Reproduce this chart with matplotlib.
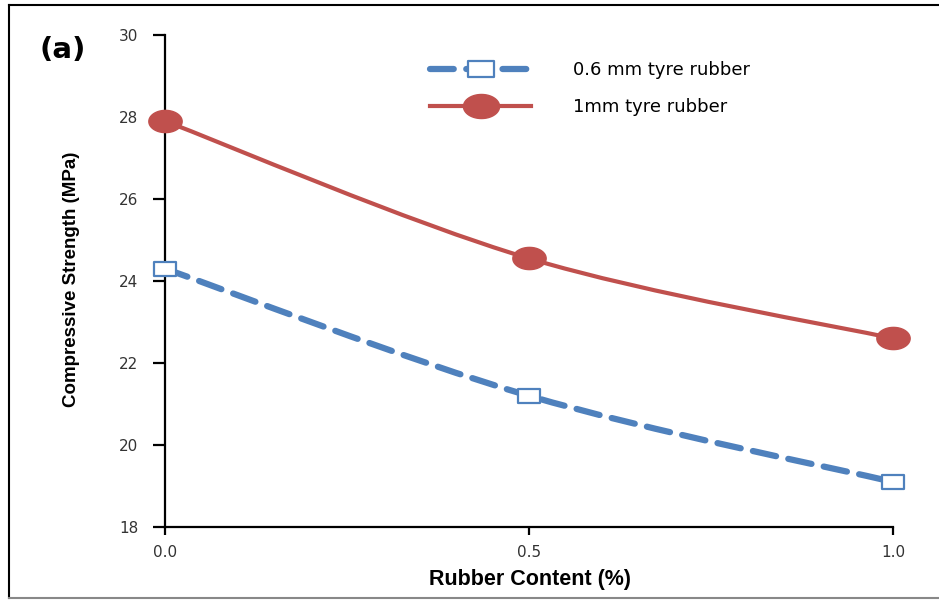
import matplotlib
matplotlib.use("Agg")
import matplotlib.pyplot as plt
import numpy as np
from matplotlib.path import Path
from matplotlib.patches import PathPatch
from matplotlib.lines import Line2D

rubber_content = [0.0, 0.5, 1.0]
strength_06mm = [24.3, 21.2, 19.1]
strength_1mm = [27.9, 24.55, 22.6]
labels = ["0.6 mm tyre rubber", "1mm tyre rubber"]
x_ticks = [0.0, 0.5, 1.0]
x_tick_labels = ["0.0", "0.5", "1.0"]
y_ticks = [18, 20, 22, 24, 26, 28, 30]

blue = "#4f81bd"
red = "#c0504d"


def smooth_path(xs, ys):
    # Excel-style smoothed line through the data points (cubic Bezier)
    pts = np.column_stack([xs, ys]).astype(float)
    n = len(pts)
    verts = [pts[0]]
    codes = [Path.MOVETO]
    for i in range(n - 1):
        p0 = pts[max(i - 1, 0)]
        p1 = pts[i]
        p2 = pts[i + 1]
        p3 = pts[min(i + 2, n - 1)]
        verts += [p1 + (p2 - p0) / 6.0, p2 - (p3 - p1) / 6.0, p2]
        codes += [Path.CURVE4] * 3
    return Path(verts, codes)


# wide markers (the original picture is stretched sideways)
t = np.linspace(0, 2 * np.pi, 60)
ellipse = Path(np.column_stack([1.5 * np.cos(t), np.sin(t)]), closed=True)
rect = Path([(-1.6, -1), (1.6, -1), (1.6, 1), (-1.6, 1), (-1.6, -1)], closed=True)

fig = plt.figure(figsize=(9.39, 6.02), dpi=100)
ax = fig.add_axes([165 / 939, 1 - 527 / 602, (893 - 165) / 939, (527 - 35) / 602])

ax.add_patch(PathPatch(smooth_path(rubber_content, strength_1mm), fill=False,
                       edgecolor=red, lw=3, capstyle="round", clip_on=False))
ax.add_patch(PathPatch(smooth_path(rubber_content, strength_06mm), fill=False,
                       edgecolor=blue, lw=4.5, linestyle=(0, (3.8, 2.0)),
                       capstyle="round", clip_on=False))
ax.plot(rubber_content, strength_1mm, ls="none", marker=ellipse, ms=24,
        mfc=red, mec=red, clip_on=False, zorder=5)
ax.plot(rubber_content, strength_06mm, ls="none", marker=rect, ms=16,
        mfc="white", mec=blue, mew=1.6, clip_on=False, zorder=5)

ax.set_xlim(0, 1)
ax.set_ylim(18, 30)
ax.set_xticks(x_ticks)
ax.set_xticklabels(x_tick_labels)
ax.set_yticks(y_ticks)
for s in ["top", "right"]:
    ax.spines[s].set_visible(False)
for s in ["left", "bottom"]:
    ax.spines[s].set_linewidth(1.6)
ax.tick_params(axis="y", direction="out", length=9, width=1.6, pad=10,
               labelsize=11, labelcolor="#333333")
ax.tick_params(axis="x", direction="out", length=6, width=1.6, pad=7,
               labelsize=11, labelcolor="#333333")

h_blue = Line2D([], [], color=blue, lw=4.5, ls=(0, (3.8, 2.0)),
                dash_capstyle="round", marker=rect, ms=19, mfc="white",
                mec=blue, mew=1.6)
h_red = Line2D([], [], color=red, lw=3, marker=ellipse, ms=26,
               mfc=red, mec=red)
ax.legend([h_blue, h_red], labels, loc="upper left",
          bbox_to_anchor=(430 / 939, 1 - 61 / 602),
          bbox_transform=fig.transFigure, frameon=False, fontsize=13,
          handlelength=5.6, handletextpad=2.3, labelspacing=1.05,
          borderpad=0, borderaxespad=0, numpoints=1)

fig.text(40 / 939, 1 - 50 / 602, "(a)", fontsize=21, fontweight="bold",
         ha="left", va="center")
fig.text(72 / 939, 1 - 279 / 602, "Compressive Strength (MPa)",
         rotation=90, ha="center", va="center", fontsize=13.5,
         fontweight="bold", family=["Liberation Sans", "DejaVu Sans"])
fig.text(530 / 939, 1 - 580 / 602, "Rubber Content (%)", ha="center",
         va="center", fontsize=15.5, fontweight="bold",
         family=["Liberation Sans", "DejaVu Sans"])

# frame around the picture
fig.add_artist(Line2D([9 / 939, 1], [1 - 5 / 602, 1 - 5 / 602],
                      transform=fig.transFigure, color="black", lw=1.5))
fig.add_artist(Line2D([9 / 939, 9 / 939], [1 - 5 / 602, 1 - 598 / 602],
                      transform=fig.transFigure, color="black", lw=1.5))
fig.add_artist(Line2D([9 / 939, 1], [1 - 598 / 602, 1 - 598 / 602],
                      transform=fig.transFigure, color="#888888", lw=1.5))

fig.savefig("out.png", dpi=100)
